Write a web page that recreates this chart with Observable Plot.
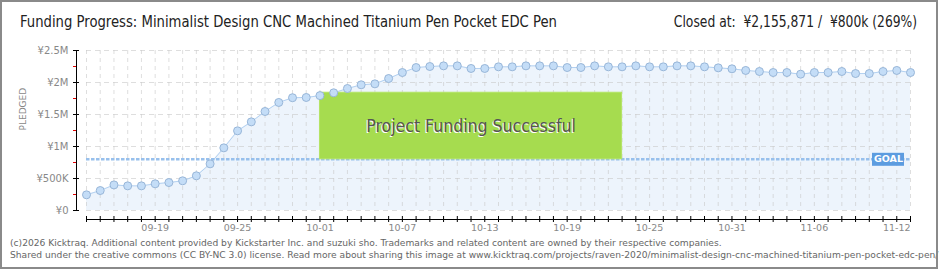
<!DOCTYPE html>
<html><head><meta charset="utf-8">
<script src="https://cdn.jsdelivr.net/npm/d3@7"></script>
<script src="https://cdn.jsdelivr.net/npm/@observablehq/plot@0.6"></script>
<style>
html,body{margin:0;padding:0;background:#fff;}
#wrap{position:relative;width:940px;height:270px;overflow:hidden;background:#fff;font-family:"DejaVu Sans",sans-serif;}
#chart{position:absolute;left:0;top:0;}
#frame{position:absolute;left:0;top:0;width:934px;height:265px;border:2px solid #8a8a8a;pointer-events:none;}
.head{position:absolute;top:12px;font-family:"DejaVu Sans Condensed","DejaVu Sans",sans-serif;font-stretch:condensed;font-size:16.5px;color:#222;white-space:pre;}
#title{left:20px;transform:scaleX(0.89);transform-origin:0 50%;}
#closed{right:23px;transform:scaleX(0.83);transform-origin:100% 50%;}
#foot{position:absolute;left:10px;top:237px;font-family:"DejaVu Sans",sans-serif;font-size:9.13px;color:#666;line-height:12px;white-space:nowrap;}
</style></head>
<body>
<div id="wrap">
  <div id="chart"></div>
  <div id="title" class="head"></div>
  <div id="closed" class="head"></div>
  <div id="foot"></div>
  <div id="frame"></div>
</div>
<script>
const titleText = "Funding Progress: Minimalist Design CNC Machined Titanium Pen Pocket EDC Pen";
const closedText = "Closed at:  ¥2,155,871 /  ¥800k (269%)";
const footerLines = [
  "(c)2026 Kicktraq. Additional content provided by Kickstarter Inc. and suzuki sho. Trademarks and related content are owned by their respective companies.",
  "Shared under the creative commons (CC BY-NC 3.0) license. Read more about sharing this image at www.kicktraq.com/projects/raven-2020/minimalist-design-cnc-machined-titanium-pen-pocket-edc-pen/"
];

const dates = [
  "2020-09-14","2020-09-15","2020-09-16","2020-09-17","2020-09-18","2020-09-19","2020-09-20","2020-09-21",
  "2020-09-22","2020-09-23","2020-09-24","2020-09-25","2020-09-26","2020-09-27","2020-09-28","2020-09-29",
  "2020-09-30","2020-10-01","2020-10-02","2020-10-03","2020-10-04","2020-10-05","2020-10-06","2020-10-07",
  "2020-10-08","2020-10-09","2020-10-10","2020-10-11","2020-10-12","2020-10-13","2020-10-14","2020-10-15",
  "2020-10-16","2020-10-17","2020-10-18","2020-10-19","2020-10-20","2020-10-21","2020-10-22","2020-10-23",
  "2020-10-24","2020-10-25","2020-10-26","2020-10-27","2020-10-28","2020-10-29","2020-10-30","2020-10-31",
  "2020-11-01","2020-11-02","2020-11-03","2020-11-04","2020-11-05","2020-11-06","2020-11-07","2020-11-08",
  "2020-11-09","2020-11-10","2020-11-11","2020-11-12","2020-11-13"
];
const pledged = [
  245000, 312000, 400000, 385000, 385000, 417000, 437000, 464000,
  542000, 729000, 979000, 1245000, 1385000, 1547000, 1688000, 1762000,
  1766000, 1795000, 1839000, 1906000, 1964000, 1979000, 2062000, 2156000,
  2234000, 2250000, 2260000, 2260000, 2219000, 2219000, 2245000, 2245000,
  2260000, 2260000, 2260000, 2234000, 2234000, 2260000, 2245000, 2245000,
  2260000, 2245000, 2245000, 2260000, 2260000, 2245000, 2229000, 2214000,
  2188000, 2172000, 2156000, 2156000, 2130000, 2156000, 2156000, 2172000,
  2140000, 2140000, 2172000, 2188000, 2155871
];
const goal = 800000;
const yTicks = [0, 500000, 1000000, 1500000, 2000000, 2500000];
const yTickLabels = ["¥0", "¥500K", "¥1M", "¥1.5M", "¥2M", "¥2.5M"];
const yMinorTicks = [250000, 750000, 1250000, 1750000, 2250000];
const xLabelDates = ["2020-09-19","2020-09-25","2020-10-01","2020-10-07","2020-10-13","2020-10-19","2020-10-25","2020-10-31","2020-11-06","2020-11-12"];
const yAxisTitle = "PLEDGED";
const goalLabel = "GOAL";
const successText = "Project Funding Successful";
const successStart = "2020-10-01";
const successEnd = "2020-10-23";
const successTop = 1840000;

document.getElementById("title").textContent = titleText;
document.getElementById("closed").textContent = closedText;
document.getElementById("foot").innerHTML = footerLines.map(s => `<div>${s}</div>`).join("");

const data = dates.map((d, i) => ({date: new Date(d), value: pledged[i]}));
const days = data.map(d => d.date);
const first = days[0], last = days[days.length - 1];
const labelDays = xLabelDates.map(d => new Date(d));
const boxStart = new Date(successStart), boxEnd = new Date(successEnd);
const boxMid = new Date((+boxStart + +boxEnd) / 2);
const labelOf = v => yTickLabels[yTicks.indexOf(v)];
const fmt = d3.utcFormat("%m-%d");
const condensed = "DejaVu Sans Condensed, DejaVu Sans, sans-serif";

const plot = Plot.plot({
  width: 940,
  height: 236,
  marginLeft: 86,
  marginRight: 30,
  marginTop: 50,
  marginBottom: 26,
  style: {fontFamily: "DejaVu Sans, sans-serif", background: "transparent", overflow: "visible"},
  x: {type: "utc", domain: [first, last]},
  y: {domain: [0, 2500000]},
  marks: [
    Plot.areaY(data, {x: "date", y: "value", fill: "#edf4fc"}),
    Plot.gridX(days, {stroke: "#c8c8c8", strokeOpacity: 0.6, strokeDasharray: "4,4"}),
    Plot.gridY(yTicks, {stroke: "#c8c8c8", strokeOpacity: 0.6, strokeDasharray: "5,4"}),
    Plot.lineY(data, {x: "date", y: "value", stroke: "#b3d1f1", strokeWidth: 1}),
    Plot.ruleY([goal], {stroke: "#98c0ec", strokeWidth: 2.5, strokeDasharray: "3.5,1.5"}),
    Plot.rect([0], {x1: boxStart, x2: boxEnd, y1: goal, y2: successTop, fill: "#a6dc4f", stroke: "#b4e464", strokeWidth: 1}),
    Plot.text([successText], {x: boxMid, y: (goal + successTop) / 2, dx: -1, dy: 1, fill: "#ffffff", fontSize: 17.5, fontFamily: condensed, letterSpacing: -0.3}),
    Plot.text([successText], {x: boxMid, y: (goal + successTop) / 2, fill: "#555", fontSize: 17.5, fontFamily: condensed, letterSpacing: -0.3}),
    Plot.dot(data, {x: "date", y: "value", r: 4, fill: "#c4ddf7", stroke: "#98b6d8", strokeWidth: 1}),
    Plot.ruleY([goal], {x1: last, x2: last, insetLeft: -38, insetRight: 6, stroke: "#5c9ce0", strokeWidth: 13}),
    Plot.text([goalLabel], {x: last, y: goal, dx: -22, fill: "#fff", fontSize: 9.5, fontWeight: "bold", letterSpacing: 0.5}),
    // y axis
    Plot.ruleX([first], {y1: 0, y2: 2500000, dx: -10, stroke: "#000"}),
    Plot.axisY(yTicks, {tickSize: 6, dx: -7, tickFormat: () => "", color: "#000", label: null}),
    Plot.axisY(yMinorTicks, {tickSize: 3, dx: -10, tickFormat: () => "", color: "#e00000", label: null}),
    Plot.axisY(yTicks, {tickSize: 0, tickPadding: 0, dx: -18, tickFormat: labelOf, color: "#888", fontSize: 10, label: null}),
    Plot.text([yAxisTitle], {frameAnchor: "left", dx: -63, rotate: -90, fill: "#888", fontSize: 9, letterSpacing: 1}),
    // x axis
    Plot.ruleY([0], {x1: first, x2: last, dy: 9, stroke: "#000"}),
    Plot.axisX(days, {tickSize: 6, dy: 6, tickFormat: () => "", color: "#000", label: null}),
    Plot.axisX(labelDays, {tickSize: 0, tickPadding: 14, tickFormat: fmt, color: "#888", fontSize: 9.5, label: null})
  ]
});
document.getElementById("chart").appendChild(plot);
</script>
</body></html>
